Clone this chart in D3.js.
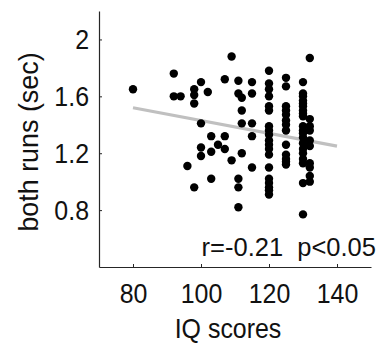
<!DOCTYPE html>
<html>
<head>
<meta charset="utf-8">
<script src="https://cdn.jsdelivr.net/npm/d3@7"></script>
<style>
  body { margin: 0; background: #fff; }
  svg text { font-family: "Liberation Sans", Arial, sans-serif; fill: #111; }
</style>
</head>
<body>
<div id="chart"></div>
<script>
// IQ score of each subject and the mean over both runs (sec)
const iqScores = [
  80, 92, 92, 94, 96,
  98, 98, 98, 98,
  100, 100, 100, 100, 102,
  103, 103, 103, 105,
  107, 107, 107, 109, 109,
  111, 111, 111, 111, 111,
  112, 112, 112, 112,
  115, 115, 115, 115, 115,
  120, 120, 120, 120, 120, 120, 120, 120, 120, 120, 120, 120, 120, 120, 120, 120, 120, 120, 120,
  125, 125, 125, 125, 125, 125, 125, 125, 125, 125, 125, 125, 125,
  130, 130, 130, 130, 130, 130, 130, 130, 130, 130, 130, 130, 130, 130, 130, 130, 130, 130, 130, 130,
  132, 132, 132, 132, 132, 132, 132, 132, 132, 132
];
const runTimes = [
  1.65, 1.76, 1.60, 1.60, 1.11,
  1.65, 1.61, 1.55, 0.96,
  1.70, 1.41, 1.24, 1.18, 1.63,
  1.32, 1.21, 1.02, 1.26,
  1.72, 1.32, 1.23, 1.88, 1.15,
  1.71, 1.62, 1.02, 0.96, 0.82,
  1.59, 1.50, 1.41, 1.20,
  1.70, 1.62, 1.41, 1.32, 1.10,
  1.78, 1.69, 1.65, 1.60, 1.53, 1.50, 1.39, 1.36, 1.33, 1.29, 1.26, 1.23, 1.19, 1.10, 1.02, 0.99, 0.96, 0.94, 0.91,
  1.73, 1.67, 1.53, 1.50, 1.47, 1.43, 1.40, 1.36, 1.26, 1.19, 1.16, 1.14, 1.12,
  1.70, 1.62, 1.60, 1.57, 1.55, 1.53, 1.50, 1.48, 1.46, 1.39, 1.36, 1.34, 1.31, 1.27, 1.23, 1.20, 1.16, 1.13, 0.99, 0.77,
  1.87, 1.44, 1.39, 1.36, 1.29, 1.25, 1.13, 1.10, 1.00, 1.04
];
// fitted trend line end points
const fitX = [80, 140];
const fitY = [1.52, 1.25];

const xTicks = [80, 100, 120, 140];
const yTicks = [0.8, 1.2, 1.6, 2];
const statsLabel = 'r=-0.21  p<0.05';

const width = 379, height = 343;
const margin = { top: 11, right: 8, bottom: 76, left: 99 };
const squeeze = 0.89; // the source text is a bit condensed

const svg = d3.select('#chart').append('svg')
  .attr('width', width)
  .attr('height', height);

const x = d3.scaleLinear()
  .domain([70, 150])
  .range([margin.left, width - margin.right]);

const y = d3.scaleLinear()
  .domain([0.4, 2.2])
  .range([height - margin.bottom, margin.top]);

const axisColor = '#262626';

// x axis, ticks pointing inward
const xAxis = svg.append('g')
  .attr('transform', `translate(0,${height - margin.bottom})`)
  .call(d3.axisBottom(x).tickValues(xTicks).tickSizeInner(-3).tickSizeOuter(0).tickPadding(16));

// y axis
const yAxis = svg.append('g')
  .attr('transform', `translate(${margin.left},0)`)
  .call(d3.axisLeft(y).tickValues(yTicks).tickSizeInner(-3).tickSizeOuter(0).tickPadding(10)
    .tickFormat(d3.format('')));

[xAxis, yAxis].forEach(g => {
  g.select('.domain').attr('stroke', axisColor).attr('stroke-width', 1.2);
  g.selectAll('.tick line').attr('stroke', axisColor);
  g.selectAll('.tick text')
    .style('font-size', '28px')
    .attr('fill', '#111')
    .attr('transform', `scale(${squeeze},1)`);
});
xAxis.selectAll('.tick text').attr('dy', '0.71em');
yAxis.selectAll('.tick text').attr('x', -10 / squeeze);

// regression line
svg.append('line')
  .attr('x1', x(fitX[0]))
  .attr('y1', y(fitY[0]))
  .attr('x2', x(fitX[1]))
  .attr('y2', y(fitY[1]))
  .attr('stroke', '#c0c0c0')
  .attr('stroke-width', 3.2);

// points
svg.append('g')
  .selectAll('circle')
  .data(d3.zip(iqScores, runTimes))
  .join('circle')
  .attr('cx', d => x(d[0]))
  .attr('cy', d => y(d[1]))
  .attr('r', 4.2)
  .attr('fill', '#000');

// stats annotation
svg.append('text')
  .attr('x', 376)
  .attr('y', 256)
  .attr('text-anchor', 'end')
  .style('font-size', '25.5px')
  .attr('xml:space', 'preserve')
  .style('white-space', 'pre')
  .text(statsLabel);

// axis titles
svg.append('text')
  .attr('transform', `translate(228,338) scale(${squeeze},1)`)
  .attr('text-anchor', 'middle')
  .style('font-size', '28px')
  .text('IQ scores');

svg.append('text')
  .attr('transform', 'translate(38,142) rotate(-90) scale(0.96,1)')
  .attr('text-anchor', 'middle')
  .style('font-size', '28px')
  .text('both runs (sec)');
</script>
</body>
</html>
